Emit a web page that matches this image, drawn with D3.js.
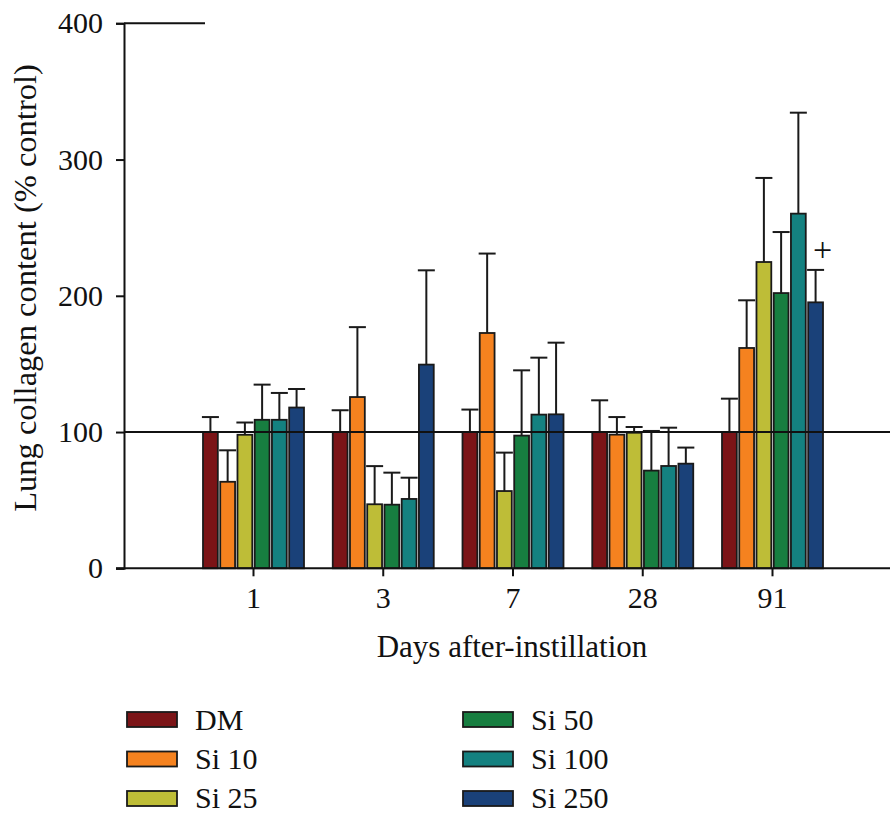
<!DOCTYPE html>
<html>
<head>
<meta charset="utf-8">
<script src="https://cdn.jsdelivr.net/npm/d3@7"></script>
<style>
  body { margin: 0; background: #fff; }
  text { font-family: "Liberation Serif", "DejaVu Serif", serif; fill: #111; }
</style>
</head>
<body>
<div id="chart"></div>
<script>
// Data
var days = ["1", "3", "7", "28", "91"];
var groups = ["DM", "Si 10", "Si 25", "Si 50", "Si 100", "Si 250"];
var colors = ["#7b1417", "#f5821f", "#bebd37", "#177e40", "#148180", "#1a4179"];

// mean values, one array per group (order of days)
var meanDM    = [100, 100, 100, 100, 100];
var meanSi10  = [63.5, 125.7, 172.7, 98.1, 161.7];
var meanSi25  = [98, 47, 56.7, 99.5, 224.8];
var meanSi50  = [109, 46.7, 97.4, 71.7, 202];
var meanSi100 = [109, 50.9, 112.8, 75.1, 260.3];
var meanSi250 = [118, 149.5, 113, 76.8, 195.2];

// upper error (SD), one array per group
var sdDM    = [11, 16, 16.5, 23.3, 24.5];
var sdSi10  = [23.1, 51.3, 58.3, 12.9, 35];
var sdSi25  = [9, 28, 28.2, 4.2, 61.7];
var sdSi50  = [25.8, 23.5, 47.9, 29.1, 44.8];
var sdSi100 = [19.7, 15.6, 41.8, 28.1, 74.1];
var sdSi250 = [13.6, 69.2, 52.6, 11.8, 23.8];

var yTicks = [0, 100, 200, 300, 400];
var refValue = 100;
// significance mark: "+" above Si 250 on day 91
var marks = [{day: "91", group: "Si 250", label: "+"}];

var means = [meanDM, meanSi10, meanSi25, meanSi50, meanSi100, meanSi250];
var sds = [sdDM, sdSi10, sdSi25, sdSi50, sdSi100, sdSi250];

var rows = [];
groups.forEach(function(g, gi) {
    days.forEach(function(d, di) {
        rows.push({day: d, group: g, mean: means[gi][di], sd: sds[gi][di]});
    });
});

var W = 890, H = 813;
var svg = d3.select("#chart").append("svg")
            .attr("width", W)
            .attr("height", H);

var axisX = 124;
var y = d3.scaleLinear().domain([0, 400]).range([568.3, 23.3]);

var x0 = d3.scaleBand().domain(days).range([203, 823]).paddingInner(0.2216).paddingOuter(0);
var x1 = d3.scaleBand().domain(groups).range([0, x0.bandwidth()]).paddingInner(0.14).paddingOuter(0);
var color = d3.scaleOrdinal().domain(groups).range(colors);

// Bars
svg.append("g")
    .selectAll("rect")
    .data(rows)
    .enter().append("rect")
        .attr("x", function(d) { return x0(d.day) + x1(d.group); })
        .attr("y", function(d) { return y(d.mean); })
        .attr("width", x1.bandwidth())
        .attr("height", function(d) { return y(0) - y(d.mean); })
        .attr("fill", function(d) { return color(d.group); })
        .attr("stroke", "#1a1a1a")
        .attr("stroke-width", 1.8);

// Error bars (upper only)
var err = svg.append("g").attr("stroke", "#1a1a1a").attr("stroke-width", 2);
err.selectAll("line.v")
    .data(rows)
    .enter().append("line")
        .attr("class", "v")
        .attr("x1", function(d) { return x0(d.day) + x1(d.group) + x1.bandwidth() / 2; })
        .attr("x2", function(d) { return x0(d.day) + x1(d.group) + x1.bandwidth() / 2; })
        .attr("y1", function(d) { return y(d.mean); })
        .attr("y2", function(d) { return y(d.mean + d.sd); });
err.selectAll("line.cap")
    .data(rows)
    .enter().append("line")
        .attr("class", "cap")
        .attr("x1", function(d) { return x0(d.day) + x1(d.group) + x1.bandwidth() / 2 - 8.5; })
        .attr("x2", function(d) { return x0(d.day) + x1(d.group) + x1.bandwidth() / 2 + 8.5; })
        .attr("y1", function(d) { return y(d.mean + d.sd); })
        .attr("y2", function(d) { return y(d.mean + d.sd); });

// Reference line at 100
svg.append("line")
    .attr("x1", axisX).attr("x2", W)
    .attr("y1", y(refValue)).attr("y2", y(refValue))
    .attr("stroke", "#111").attr("stroke-width", 2);

// Y axis
var gy = svg.append("g")
    .attr("transform", "translate(" + axisX + ",0)")
    .call(d3.axisLeft(y).tickValues(yTicks).tickSize(8).tickPadding(13));
gy.select(".domain").attr("stroke", "#111").attr("stroke-width", 2);
gy.selectAll(".tick line").attr("stroke", "#111").attr("stroke-width", 2);
gy.selectAll("text")
    .attr("font-size", 30)
    .attr("font-family", "Liberation Serif, serif")
    .attr("fill", "#111");

// short top line at 400
svg.append("line")
    .attr("x1", axisX).attr("x2", 205)
    .attr("y1", y(400)).attr("y2", y(400))
    .attr("stroke", "#111").attr("stroke-width", 2);

// X axis
var gx = svg.append("g")
    .attr("transform", "translate(0," + y(0) + ")")
    .call(d3.axisBottom(x0).tickSize(8).tickPadding(10).tickSizeOuter(0));
gx.select(".domain").attr("d", "M" + (axisX - 8) + ",0H" + W).attr("stroke", "#111").attr("stroke-width", 2);
gx.selectAll(".tick line").attr("stroke", "#111").attr("stroke-width", 2);
gx.selectAll("text")
    .attr("font-size", 30)
    .attr("font-family", "Liberation Serif, serif")
    .attr("fill", "#111");

// Significance mark
svg.selectAll("text.mark")
    .data(marks)
    .enter().append("text")
        .attr("class", "mark")
        .attr("x", function(d) { return x0(d.day) + x1(d.group) + x1.bandwidth() / 2 + 7; })
        .attr("y", function(d) {
            var r = rows.filter(function(e) { return e.day === d.day && e.group === d.group; })[0];
            return y(r.mean + r.sd) - 9;
        })
        .attr("text-anchor", "middle")
        .attr("font-size", 34)
        .text(function(d) { return d.label; });

// Axis titles
svg.append("text")
    .attr("transform", "rotate(-90)")
    .attr("x", -288)
    .attr("y", 36)
    .attr("text-anchor", "middle")
    .attr("font-size", 32.5)
    .text("Lung collagen content (% control)");

svg.append("text")
    .attr("x", 512)
    .attr("y", 657)
    .attr("text-anchor", "middle")
    .attr("font-size", 31)
    .text("Days after-instillation");

// Legend
var legendX = [127, 463];
var legend = svg.append("g");
legend.selectAll("rect")
    .data(groups)
    .enter().append("rect")
        .attr("x", function(d, i) { return legendX[Math.floor(i / 3)]; })
        .attr("y", function(d, i) { return 712 + (i % 3) * 39.5; })
        .attr("width", 50)
        .attr("height", 15)
        .attr("fill", function(d) { return color(d); })
        .attr("stroke", "#1a1a1a")
        .attr("stroke-width", 1.8);
legend.selectAll("text")
    .data(groups)
    .enter().append("text")
        .attr("x", function(d, i) { return legendX[Math.floor(i / 3)] + 68; })
        .attr("y", function(d, i) { return 730 + (i % 3) * 39; })
        .attr("font-size", 30)
        .text(function(d) { return d; });
</script>
</body>
</html>
